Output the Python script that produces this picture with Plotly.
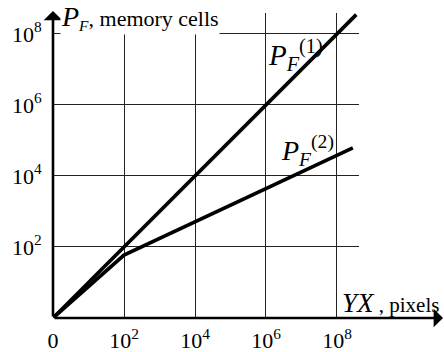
import plotly.graph_objects as go

# Image size (YX, pixels) and frame memory (P_F, memory cells)
yx_p1 = [1, 3.5e8]
pf_p1 = [1, 3.5e8]
yx_p2 = [1, 100, 2.8e8]
pf_p2 = [1, 59, 6.2e4]

x_tickvals = [1, 1e2, 1e4, 1e6, 1e8]
x_ticktext = ["0", "10<sup>2</sup>", "10<sup>4</sup>", "10<sup>6</sup>", "10<sup>8</sup>"]
y_tickvals = [1e2, 1e4, 1e6, 1e8]
y_ticktext = ["10<sup>2</sup>", "10<sup>4</sup>", "10<sup>6</sup>", "10<sup>8</sup>"]

SERIF = "Liberation Serif, Times New Roman, serif"
W, H = 444, 352
L, R, T, B = 53, 85, 13, 34
PW, PH = W - L - R, H - T - B

fig = go.Figure()
line_style = dict(color="black", width=3.6)
fig.add_trace(go.Scatter(x=yx_p1, y=pf_p1, mode="lines", line=line_style,
                         showlegend=False, hoverinfo="skip"))
fig.add_trace(go.Scatter(x=yx_p2, y=pf_p2, mode="lines", line=line_style,
                         showlegend=False, hoverinfo="skip"))

axis_common = dict(
    type="log", automargin=False,
    showgrid=True, gridcolor="#222", gridwidth=1.3,
    showline=False, zeroline=False,
    ticks="outside", tickcolor="rgba(0,0,0,0)",
    tickfont=dict(family=SERIF, size=22, color="black"),
)
fig.update_xaxes(range=[0, 8.62], tickvals=x_tickvals, ticktext=x_ticktext,
                 ticklen=3, **axis_common)
fig.update_yaxes(range=[0, 8.59], tickvals=y_tickvals, ticktext=y_ticktext,
                 ticklen=6, **axis_common)

# Axis lines with arrowheads
x_tip = (443 - L) / PW
y_tip = (H - B - 11) / PH
fig.add_annotation(xref="paper", yref="paper", x=x_tip, y=0, ax=-(443 - L), ay=0,
                   text="", showarrow=True, arrowhead=1, arrowsize=1.2,
                   arrowwidth=2.6, arrowcolor="black")
fig.add_annotation(xref="paper", yref="paper", x=0, y=y_tip, ax=0, ay=(H - B - 11),
                   text="", showarrow=True, arrowhead=1, arrowsize=1.2,
                   arrowwidth=2.6, arrowcolor="black")

# Axis titles
fig.add_annotation(
    xref="paper", yref="paper", x=(60 - L) / PW, y=1 + T / PH,
    xanchor="left", yanchor="top", borderpad=0,
    text="<span style='font-size:28px'><i>P</i></span><sub><i>F</i></sub>"
         "<span style='font-size:22px'>, memory cells</span>",
    showarrow=False, bgcolor="white", font=dict(family=SERIF, size=22, color="black"),
)
fig.add_annotation(
    xref="paper", yref="paper", x=(340 - L) / PW, y=(H - B - 303) / PH,
    xanchor="left", yanchor="middle",
    text="<span style='font-size:27px'><i>YX</i></span> , pixels",
    showarrow=False, font=dict(family=SERIF, size=21, color="black"),
)

# Curve labels
fig.add_annotation(
    x=6.0, y=7.42, xanchor="left", yanchor="middle",
    text="<i>P</i><sub><i>F</i></sub><sup>(1)</sup>",
    showarrow=False, font=dict(family=SERIF, size=29, color="black"),
)
fig.add_annotation(
    x=6.38, y=4.72, xanchor="left", yanchor="middle",
    text="<i>P</i><sub><i>F</i></sub><sup>(2)</sup>",
    showarrow=False, font=dict(family=SERIF, size=28, color="black"),
)

fig.update_layout(
    width=W, height=H,
    margin=dict(l=L, r=R, t=T, b=B, autoexpand=False),
    paper_bgcolor="white", plot_bgcolor="white",
    font=dict(family=SERIF, color="black"),
)

fig.write_html("out.html")
